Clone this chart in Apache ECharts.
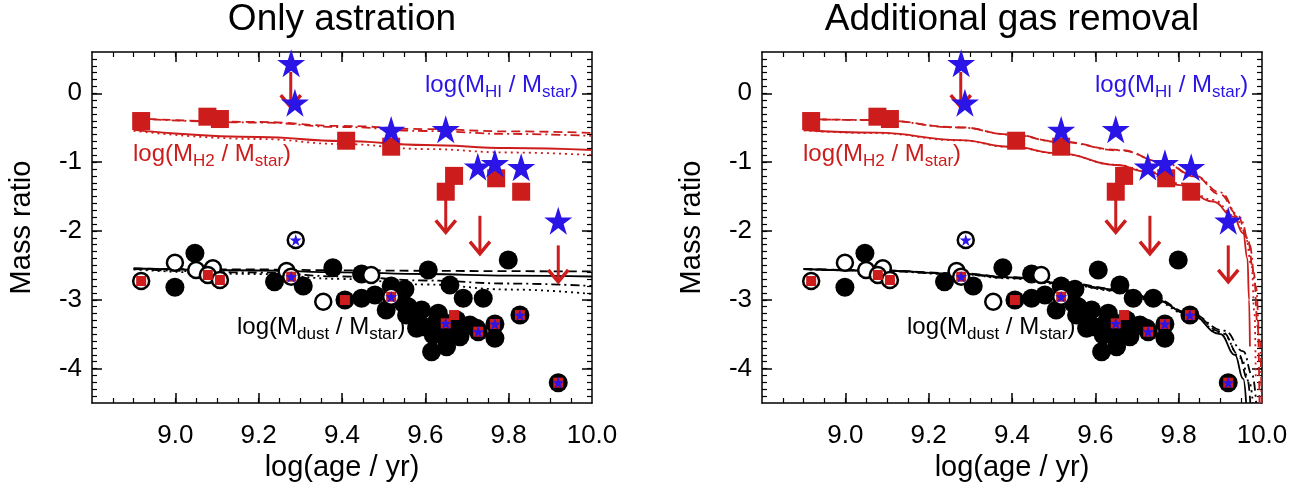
<!DOCTYPE html>
<html><head><meta charset="utf-8">
<script src="https://cdn.jsdelivr.net/npm/echarts@6/dist/echarts.min.js"></script>
<style>html,body{margin:0;padding:0;background:#fff}#c{width:1304px;height:486px}</style>
</head><body><div id="c"></div>
<script>
// ---------- tick labels ----------
const xLabelVals = [9.0, 9.2, 9.4, 9.6, 9.8, 10.0];
const xMajorTicks = [9.0, 9.2, 9.4, 9.6, 9.8];
const yLabelVals = [-4, -3, -2, -1, 0];
const yMajorTicks = [-4, -3, -2, -1, 0];
const xMinorTicks = []; for (let k = 177; k <= 199; k++) xMinorTicks.push(k / 20);
const yMinorTicks = []; for (let k = -44; k <= 5; k++) yMinorTicks.push(k / 10);

// ---------- observations ----------
const h2X = [8.918, 9.077, 9.107, 9.41, 9.518, 9.649, 9.669, 9.77, 9.83];
const h2Y = [-0.403, -0.34, -0.374, -0.689, -0.776, -1.43, -1.20, -1.235, -1.43];
const hiX = [9.278, 9.287, 9.518, 9.649, 9.726, 9.767, 9.83, 9.919];
const hiY = [0.436, -0.137, -0.533, -0.523, -1.067, -1.017, -1.075, -1.851];
const limX = [9.277, 9.649, 9.731, 9.919];
const limTop = [0.31, -1.43, -1.78, -2.21];
const limTip = [-0.2, -2.02, -2.33, -2.74];

const dustFilledX = [9.047, 8.999, 9.238, 9.307, 9.378, 9.447, 9.447, 9.479, 9.518, 9.551, 9.506, 9.559, 9.591, 9.555, 9.579, 9.607, 9.659, 9.631, 9.691, 9.739, 9.619, 9.651, 9.615, 9.671, 9.707, 9.767, 9.799, 9.615, 9.643, 9.675, 9.547, 9.595, 9.575, 9.627, 9.683, 9.723, 9.407, 9.649, 9.727, 9.767, 9.827, 9.919];
const dustFilledY = [-2.325, -2.819, -2.738, -2.800, -2.534, -2.626, -2.979, -2.931, -2.800, -2.848, -3.149, -3.101, -3.149, -3.222, -3.415, -2.568, -2.786, -3.197, -2.979, -2.979, -3.512, -3.682, -3.755, -3.487, -3.367, -3.560, -2.422, -3.392, -3.440, -3.294, -3.052, -3.392, -3.246, -3.319, -3.537, -3.415, -3.004, -3.342, -3.464, -3.352, -3.222, -4.205];
const dustOpenX = [8.999, 9.050, 9.090, 9.267, 9.470, 9.355, 8.918, 9.078, 9.107, 9.289, 9.278, 9.518];
const dustOpenY = [-2.462, -2.568, -2.543, -2.582, -2.640, -3.028, -2.727, -2.640, -2.713, -2.132, -2.665, -2.956];
const innerSqX = [8.918, 9.078, 9.107, 9.407, 9.278, 9.518, 9.649, 9.727, 9.767, 9.827, 9.919, 9.669];
const innerSqY = [-2.727, -2.640, -2.713, -3.004, -2.665, -2.956, -3.342, -3.464, -3.352, -3.222, -4.205, -3.222];
const innerStarX = [9.289, 9.278, 9.518, 9.649, 9.727, 9.767, 9.827, 9.919];
const innerStarY = [-2.132, -2.665, -2.956, -3.342, -3.464, -3.352, -3.222, -4.205];

// ---------- models: only astration ----------
const h2DashedL = [[8.9,-0.363],[9.2,-0.417],[9.4,-0.475],[9.6,-0.52],[9.8,-0.553],[10.0,-0.575]];
const h2DashDotL = [[8.9,-0.365],[9.2,-0.425],[9.4,-0.49],[9.6,-0.548],[9.8,-0.59],[10.0,-0.62]];
const h2SolidL = [[8.9,-0.533],[9.2,-0.635],[9.4,-0.693],[9.6,-0.751],[9.8,-0.795],[10.0,-0.824]];
const h2DottedL = [[8.9,-0.545],[9.2,-0.664],[9.4,-0.737],[9.6,-0.81],[9.8,-0.86],[10.0,-0.897]];
const dustDashedL = [[8.9,-2.546],[9.2,-2.560],[9.4,-2.572],[9.6,-2.579],[9.8,-2.585],[10.0,-2.589]];
const dustSolidL = [[8.9,-2.546],[9.2,-2.575],[9.4,-2.601],[9.6,-2.626],[9.8,-2.648],[10.0,-2.662]];
const dustDashDotL = [[8.9,-2.553],[9.2,-2.604],[9.4,-2.662],[9.6,-2.720],[9.8,-2.764],[10.0,-2.800]];
const dustDottedL = [[8.9,-2.560],[9.2,-2.626],[9.4,-2.698],[9.6,-2.778],[9.8,-2.851],[10.0,-2.916]];

// ---------- models: additional gas removal ----------
const h2DashedR = [[8.9,-0.374],[9.075,-0.388],[9.275,-0.494],[9.395,-0.596],[9.515,-0.703],[9.66,-0.824],[9.76,-0.994],[9.84,-1.21],[9.9,-1.47],[9.94,-1.75],[9.965,-2.1],[9.98,-2.6],[9.99,-3.4],[9.994,-4.5]];
const h2DashDotR = [[8.9,-0.374],[9.075,-0.39],[9.275,-0.497],[9.395,-0.6],[9.515,-0.707],[9.66,-0.83],[9.76,-0.995],[9.84,-1.2],[9.9,-1.44],[9.95,-1.85],[9.97,-2.2],[9.985,-2.8],[9.995,-3.6],[9.999,-4.5]];
const h2SolidR = [[8.9,-0.533],[9.075,-0.572],[9.275,-0.679],[9.395,-0.776],[9.515,-0.872],[9.651,-1.042],[9.723,-1.139],[9.803,-1.333],[9.883,-1.575],[9.931,-1.793],[9.955,-2.034],[9.965,-2.4],[9.969,-3.0],[9.971,-3.68]];
const h2DottedR = [[8.9,-0.54],[9.075,-0.58],[9.275,-0.685],[9.395,-0.78],[9.515,-0.875],[9.651,-1.04],[9.723,-1.13],[9.803,-1.31],[9.883,-1.55],[9.935,-1.78],[9.96,-2.05],[9.975,-2.5],[9.982,-3.2],[9.985,-4.12]];
const dustSolidR = [[8.9,-2.553],[9.075,-2.575],[9.275,-2.62],[9.395,-2.675],[9.515,-2.755],[9.66,-2.855],[9.74,-2.995],[9.827,-3.21],[9.9,-3.5],[9.935,-3.8],[9.955,-4.15],[9.962,-4.5]];
const dustDashedR = [[8.9,-2.55],[9.075,-2.572],[9.275,-2.615],[9.395,-2.67],[9.515,-2.745],[9.66,-2.845],[9.74,-2.98],[9.827,-3.19],[9.905,-3.47],[9.945,-3.8],[9.965,-4.15],[9.972,-4.5]];
const dustDottedR = [[8.9,-2.555],[9.075,-2.58],[9.275,-2.63],[9.395,-2.69],[9.515,-2.77],[9.66,-2.875],[9.74,-3.02],[9.827,-3.225],[9.905,-3.49],[9.95,-3.85],[9.97,-4.2],[9.978,-4.5]];
const dustDashDotR = [[8.9,-2.555],[9.075,-2.58],[9.275,-2.628],[9.395,-2.685],[9.515,-2.765],[9.66,-2.865],[9.74,-3.0],[9.827,-3.2],[9.91,-3.45],[9.955,-3.75],[9.977,-4.1],[9.986,-4.5]];

// ---------- styling ----------
const FONT = "'Liberation Sans', Arial, Helvetica, sans-serif";
const RED = '#CC1C1C', BLUE = '#2A14E6', BLACK = '#000';
const STAR = 'path://M50 2 L61.8 38.2 L99.9 38.2 L69.1 60.6 L80.9 96.8 L50 74.4 L19.1 96.8 L30.9 60.6 L0.1 38.2 L38.2 38.2 Z';
const DASH = [9, 5], DASHDOT = [9, 4, 2, 4], DOT = [2, 4];
const zip = (xs, ys) => xs.map((x, i) => [x, ys[i]]);
const GRID_LEFT = [92, 762];

function xAxes(g) {
  const line = {show: true, onZero: false, lineStyle: {color: BLACK, width: 1.5}};
  const base = {type: 'value', gridIndex: g, min: 8.8, max: 10.0, splitLine: {show: false}};
  const maj = {show: true, inside: true, length: 10, customValues: xMajorTicks, lineStyle: {color: BLACK, width: 1.5}};
  const min = {show: true, inside: true, length: 5, customValues: xMinorTicks, lineStyle: {color: BLACK, width: 1.2}};
  return [
    Object.assign({}, base, {position: 'bottom', axisLine: line, axisTick: maj,
      axisLabel: {customValues: xLabelVals, formatter: v => v.toFixed(1), fontSize: 26, color: BLACK, margin: 20, fontFamily: FONT},
      name: 'log(age / yr)', nameLocation: 'middle', nameGap: 47,
      nameTextStyle: {fontSize: 29, color: BLACK, fontFamily: FONT}}),
    Object.assign({}, base, {position: 'bottom', axisLine: {show: false, onZero: false}, axisTick: min, axisLabel: {show: false}}),
    Object.assign({}, base, {position: 'top', axisLine: line, axisTick: maj, axisLabel: {show: false}}),
    Object.assign({}, base, {position: 'top', axisLine: {show: false, onZero: false}, axisTick: min, axisLabel: {show: false}})
  ];
}
function yAxes(g) {
  const line = {show: true, onZero: false, lineStyle: {color: BLACK, width: 1.5}};
  const base = {type: 'value', gridIndex: g, min: -4.5, max: 0.6, splitLine: {show: false}};
  const maj = {show: true, inside: true, length: 10, customValues: yMajorTicks, lineStyle: {color: BLACK, width: 1.5}};
  const min = {show: true, inside: true, length: 5, customValues: yMinorTicks, lineStyle: {color: BLACK, width: 1.2}};
  return [
    Object.assign({}, base, {position: 'left', axisLine: line, axisTick: maj,
      axisLabel: {customValues: yLabelVals, fontSize: 26, color: BLACK, margin: 10, fontFamily: FONT},
      name: 'Mass ratio', nameLocation: 'middle', nameGap: 56,
      nameTextStyle: {fontSize: 29, color: BLACK, fontFamily: FONT}}),
    Object.assign({}, base, {position: 'left', axisLine: {show: false, onZero: false}, axisTick: min, axisLabel: {show: false}}),
    Object.assign({}, base, {position: 'right', axisLine: line, axisTick: maj, axisLabel: {show: false}}),
    Object.assign({}, base, {position: 'right', axisLine: {show: false, onZero: false}, axisTick: min, axisLabel: {show: false}})
  ];
}

function curve(g, data, color, type, z) {
  return {type: 'line', xAxisIndex: g * 4, yAxisIndex: g * 4, data: data, symbol: 'none', showSymbol: false,
    smooth: 0.45, smoothMonotone: 'x', clip: true, silent: true, z: z,
    lineStyle: {color: color, width: 1.8, type: type}};
}
function scatter(g, data, symbol, size, style, z) {
  return {type: 'scatter', xAxisIndex: g * 4, yAxisIndex: g * 4, data: data, symbol: symbol, symbolSize: size,
    itemStyle: Object.assign({opacity: 1}, style), silent: true, z: z};
}
function arrows(g) {
  return {type: 'custom', xAxisIndex: g * 4, yAxisIndex: g * 4, silent: true, z: 5,
    data: limX.map((x, i) => [x, limTop[i], limTip[i]]),
    encode: {x: 0, y: [1, 2]},
    renderItem: function (params, api) {
      const a = api.coord([api.value(0), api.value(1)]);
      const b = api.coord([api.value(0), api.value(2)]);
      return {type: 'group', children: [
        {type: 'line', shape: {x1: a[0], y1: a[1], x2: b[0], y2: b[1]}, style: {stroke: RED, lineWidth: 3}},
        {type: 'polyline', shape: {points: [[b[0] - 10, b[1] - 12], [b[0], b[1]], [b[0] + 10, b[1] - 12]]},
         style: {stroke: RED, lineWidth: 3.5, fill: null}}
      ]};
    }};
}
function panelSeries(g, h2s, dusts) {
  const s = [];
  s.push(curve(g, h2s[0], RED, DASH, 2), curve(g, h2s[1], RED, DASHDOT, 2), curve(g, h2s[2], RED, 'solid', 2), curve(g, h2s[3], RED, DOT, 2));
  s.push(curve(g, dusts[0], BLACK, DASH, 2), curve(g, dusts[1], BLACK, 'solid', 2), curve(g, dusts[2], BLACK, DASHDOT, 2), curve(g, dusts[3], BLACK, DOT, 2));
  s.push(scatter(g, zip(dustFilledX, dustFilledY), 'circle', 19, {color: BLACK}, 3));
  s.push(scatter(g, zip(dustOpenX, dustOpenY), 'circle', 16, {color: '#fff', borderColor: BLACK, borderWidth: 2.5}, 4));
  s.push(scatter(g, zip(innerSqX, innerSqY), 'rect', 10, {color: RED}, 5));
  s.push(scatter(g, zip(innerStarX, innerStarY), STAR, 12, {color: BLUE}, 6));
  s.push(arrows(g));
  s.push(scatter(g, zip(h2X, h2Y), 'rect', 18, {color: RED}, 8));
  s.push(scatter(g, zip(hiX, hiY), STAR, 28, {color: BLUE}, 9));
  return s;
}

function label(x, y, color, main1, sub1, main2, sub2, main3) {
  return {type: 'text', x: x, y: y, z: 100, silent: true,
    style: {text: '{a|' + main1 + '}{s|' + sub1 + '}{a|' + main2 + '}{s|' + sub2 + '}{a|' + main3 + '}',
      fill: color, verticalAlign: 'top', align: 'left',
      rich: {a: {fontSize: 24, fontFamily: FONT, fill: color},
             s: {fontSize: 17, fontFamily: FONT, fill: color, padding: [15, 0, 0, 0]}}}};
}
const graphics = [];
['Only astration', 'Additional gas removal'].forEach((t, g) => {
  graphics.push({type: 'text', x: GRID_LEFT[g] + 250, y: 20, silent: true,
    style: {text: t, fontSize: 37, fontFamily: FONT, fill: BLACK, align: 'center', verticalAlign: 'middle'}});
  const dx = GRID_LEFT[g] - 92;
  graphics.push(label(425 + dx, 69, BLUE, 'log(M', 'HI', ' / M', 'star', ')'));
  graphics.push(label(133 + dx, 138, RED, 'log(M', 'H2', ' / M', 'star', ')'));
  graphics.push(label(237 + dx, 311, BLACK, 'log(M', 'dust', ' / M', 'star', ')'));
});

const chart = echarts.init(document.getElementById('c'), null, {renderer: 'canvas'});
chart.setOption({
  animation: false,
  backgroundColor: '#fff',
  grid: [
    {left: GRID_LEFT[0], top: 52, width: 500, height: 351, outerBoundsMode: 'none'},
    {left: GRID_LEFT[1], top: 52, width: 500, height: 351, outerBoundsMode: 'none'}
  ],
  xAxis: xAxes(0).concat(xAxes(1)),
  yAxis: yAxes(0).concat(yAxes(1)),
  series: panelSeries(0, [h2DashedL, h2DashDotL, h2SolidL, h2DottedL], [dustDashedL, dustSolidL, dustDashDotL, dustDottedL])
    .concat(panelSeries(1, [h2DashedR, h2DashDotR, h2SolidR, h2DottedR], [dustDashedR, dustSolidR, dustDashDotR, dustDottedR])),
  graphic: graphics
});
</script></body></html>
